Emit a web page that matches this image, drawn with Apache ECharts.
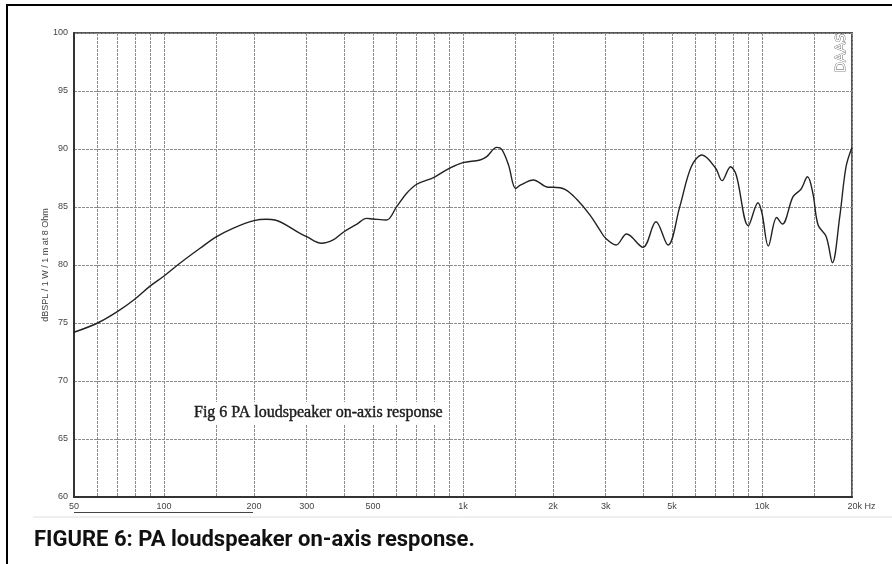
<!DOCTYPE html>
<html><head><meta charset="utf-8">
<script src="https://cdn.jsdelivr.net/npm/echarts@6/dist/echarts.min.js"></script>
<style>html,body{margin:0;padding:0;background:#fff}#c{width:892px;height:564px}</style>
</head><body><div id="c"></div>
<script>
// Frequency (Hz) and on-axis SPL (dB)
const freqHz = [50, 60, 70, 80, 90, 100, 113, 132, 150, 170, 200, 220, 235, 285, 300, 336, 368, 400, 442, 476, 500, 555, 600, 648, 700, 800, 900, 1000, 1140, 1200, 1297, 1348, 1420, 1500, 1560, 1720, 1930, 2000, 2200, 2400, 2660, 2870, 3000, 3250, 3525, 4000, 4420, 4850, 5310, 5800, 6300, 7000, 7350, 7850, 8200, 9000, 9700, 10000, 10500, 11200, 11700, 12700, 13500, 14200, 14800, 15400, 16400, 17200, 18200, 19100, 20000];
const splDb = [74.2, 75.0, 76.0, 77.07, 78.2, 79.05, 80.15, 81.44, 82.44, 83.16, 83.82, 83.94, 83.88, 82.73, 82.44, 81.87, 82.16, 82.87, 83.53, 84.02, 83.97, 83.88, 85.03, 86.18, 86.96, 87.56, 88.34, 88.82, 89.05, 89.34, 90.14, 89.97, 88.62, 86.6, 86.9, 87.33, 86.7, 86.7, 86.5, 85.66, 84.3, 83.0, 82.3, 81.72, 82.67, 81.53, 83.73, 81.72, 85.03, 88.47, 89.48, 88.34, 87.27, 88.47, 87.76, 83.39, 85.37, 84.46, 81.64, 84.1, 83.53, 85.89, 86.53, 87.61, 86.18, 83.45, 82.44, 80.2, 84.17, 88.47, 90.14];
// Axis ticks
const gridFreqs = [50, 60, 70, 80, 90, 100, 150, 200, 300, 400, 500, 600, 700, 800, 900, 1000, 1500, 2000, 3000, 4000, 5000, 6000, 7000, 8000, 9000, 10000, 15000, 20000];
const freqLabels = [50, 100, 200, 300, 500, 1000, 2000, 3000, 5000, 10000, 20000];
const yMin = 60, yMax = 100, yStep = 5;

const chart = echarts.init(document.getElementById('c'), null, {renderer: 'canvas'});
const points = freqHz.map((f, i) => [f, splDb[i]]);
const gridLine = {show: true, lineStyle: {color: '#8c8c8c', width: 1, type: [3, 1]}};

chart.setOption({
  animation: false,
  backgroundColor: '#fff',
  grid: {left: 74, top: 33, width: 778, height: 464, show: true, borderColor: '#555', borderWidth: 2, backgroundColor: 'transparent'},
  xAxis: {
    type: 'log', logBase: 10, min: 50, max: 20000,
    axisLine: {show: true, lineStyle: {color: '#333', width: 2}},
    axisTick: {show: false, customValues: gridFreqs},
    splitLine: gridLine,
    minorTick: {show: false}, minorSplitLine: {show: false},
    axisLabel: {
      customValues: freqLabels, margin: 5, color: '#444', fontSize: 9, fontFamily: 'Liberation Sans',
      formatter: v => v === 20000 ? '{r|20k Hz}' : (v >= 1000 ? (v / 1000) + 'k' : String(v)),
      rich: {r: {fontSize: 9, color: '#444', fontFamily: 'Liberation Sans', padding: [0, 0, 0, 19]}}
    }
  },
  yAxis: {
    type: 'value', min: yMin, max: yMax, interval: yStep,
    name: 'dBSPL / 1 W / 1 m at 8 Ohm', nameLocation: 'middle', nameGap: 24, nameMoveOverlap: false,
    nameTextStyle: {fontSize: 9, color: '#444', fontFamily: 'Liberation Sans'},
    axisLine: {show: true, lineStyle: {color: '#333', width: 2}},
    axisTick: {show: false},
    splitLine: gridLine,
    axisLabel: {margin: 6, color: '#444', fontSize: 9, fontFamily: 'Liberation Sans'}
  },
  series: [{
    type: 'line', data: points, smooth: 0.35, symbol: 'none',
    lineStyle: {color: '#222', width: 1.4}, z: 5
  }],
  graphic: [
    {type: 'rect', shape: {x: 7, y: 5, width: 900, height: 600}, style: {fill: 'none', stroke: '#000', lineWidth: 2}, silent: true},
    {type: 'line', shape: {x1: 33, y1: 517, x2: 892, y2: 517}, style: {stroke: '#dedede', lineWidth: 1}, silent: true},
    {type: 'line', shape: {x1: 74, y1: 512.5, x2: 253, y2: 512.5}, style: {stroke: '#444', lineWidth: 1}, silent: true},
    {type: 'text', x: 193, y: 413, style: {text: 'Fig 6 PA loudspeaker on-axis response', font: '16px "Liberation Serif"', fill: '#1a1a1a', stroke: '#1a1a1a', lineWidth: 0.4, textVerticalAlign: 'middle', backgroundColor: '#fff', padding: [3, 1]}, z: 10},
    {type: 'text', x: 34, y: 540, style: {text: 'FIGURE 6: PA loudspeaker on-axis response.', font: 'bold 22px Roboto', fill: '#111', textVerticalAlign: 'middle'}, z: 10},
    {type: 'text', x: 841, y: 53, rotation: Math.PI / 2, style: {text: 'DAAS', font: '14px "DejaVu Sans"', fill: '#fff', stroke: '#555', lineWidth: 0.8, textAlign: 'center', textVerticalAlign: 'middle'}, z: 10}
  ]
});
</script></body></html>
